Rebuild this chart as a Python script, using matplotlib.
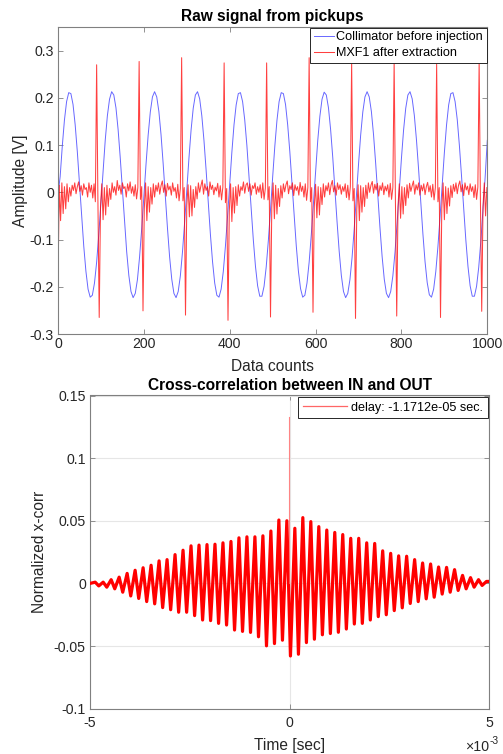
import numpy as np
import matplotlib
matplotlib.use('Agg')
import matplotlib.pyplot as plt
from matplotlib.ticker import FuncFormatter, FormatStrFormatter
from matplotlib.lines import Line2D

plt.rcParams['font.family'] = ['Liberation Sans', 'DejaVu Sans']
plt.rcParams['axes.unicode_minus'] = False

# ---------------- data: raw signals ----------------
blue_step = 5  # data counts between samples
blue_values = [
    -0.005, 0.033, 0.098, 0.153, 0.192, 0.211, 0.209, 0.186, 0.143, 0.086,
    0.019, -0.050, -0.114, -0.167, -0.205, -0.222, -0.218, -0.192, -0.148, -0.089,
    -0.022, 0.046, 0.110, 0.162, 0.197, 0.213, 0.206, 0.179, 0.133, 0.073,
    0.006, -0.063, -0.126, -0.176, -0.210, -0.223, -0.214, -0.185, -0.137, -0.077,
    -0.009, 0.059, 0.121, 0.170, 0.202, 0.213, 0.202, 0.171, 0.122, 0.060,
    -0.008, -0.076, -0.137, -0.184, -0.214, -0.223, -0.210, -0.177, -0.126, -0.063,
    0.005, 0.072, 0.132, 0.178, 0.206, 0.213, 0.198, 0.162, 0.110, 0.047,
    -0.022, -0.089, -0.147, -0.192, -0.218, -0.222, -0.205, -0.168, -0.114, -0.050,
    0.019, 0.085, 0.143, 0.185, 0.209, 0.211, 0.192, 0.153, 0.099, 0.033,
    -0.035, -0.101, -0.157, -0.198, -0.220, -0.220, -0.199, -0.158, -0.102, -0.037,
    0.032, 0.097, 0.152, 0.192, 0.211, 0.209, 0.186, 0.143, 0.086, 0.020,
    -0.049, -0.113, -0.167, -0.204, -0.222, -0.218, -0.192, -0.148, -0.090, -0.023,
    0.046, 0.109, 0.161, 0.197, 0.212, 0.206, 0.179, 0.133, 0.074, 0.006,
    -0.062, -0.125, -0.176, -0.210, -0.223, -0.214, -0.185, -0.138, -0.077, -0.009,
    0.059, 0.121, 0.170, 0.202, 0.213, 0.202, 0.171, 0.122, 0.061, -0.007,
    -0.075, -0.136, -0.184, -0.214, -0.223, -0.210, -0.177, -0.127, -0.064, 0.004,
    0.072, 0.132, 0.178, 0.206, 0.213, 0.198, 0.163, 0.111, 0.048, -0.021,
    -0.088, -0.147, -0.191, -0.217, -0.222, -0.205, -0.168, -0.115, -0.051, 0.018,
    0.084, 0.142, 0.185, 0.209, 0.211, 0.192, 0.154, 0.099, 0.034, -0.035,
    -0.101, -0.157, -0.198, -0.220, -0.220, -0.199, -0.159, -0.103, -0.037, 0.032,
    0.110,
]

red_step = 3  # data counts between samples
red_rows = [
    [-0.19, 0.015, -0.06, 0.02, -0.045, 0.012, -0.035, 0.018, -0.02, 0.01,
     -0.008, 0.015, 0.004, 0.02, -0.003, 0.012, 0.022, 0.002, 0.014, -0.006,
     0.018, 0.006, 0.01, -0.01, 0.02, 0.0, 0.015, -0.012, 0.018, -0.02],
    [0.270, -0.02, -0.265, -0.03, 0.018, -0.058, 0.01, -0.048, 0.015, -0.03,
     0.008, -0.015, 0.02, 0.0, 0.012, -0.006, 0.025, 0.004, 0.015, -0.004,
     0.02, 0.008, 0.012, -0.01, 0.018, 0.003, 0.022, -0.002, 0.012, -0.008,
     0.016, -0.014, 0.01],
    [0.277, -0.015, 0.012, -0.251, -0.035, 0.02, -0.06, 0.012, -0.042, 0.01,
     -0.025, 0.018, -0.01, 0.015, 0.002, 0.02, -0.004, 0.014, 0.024, 0.0,
     0.016, -0.008, 0.019, 0.005, 0.013, -0.006, 0.02, 0.002, 0.01, -0.012,
     0.017, -0.018, 0.008],
    [0.285, -0.018, 0.01, -0.260, -0.028, 0.016, -0.052, 0.014, -0.05, 0.006,
     -0.032, 0.012, -0.014, 0.02, 0.0, 0.014, 0.026, -0.004, 0.018, 0.004,
     0.012, -0.008, 0.022, 0.006, 0.015, -0.005, 0.011, 0.003, 0.019, -0.01,
     0.014, -0.016, 0.011],
    [0.274, -0.022, 0.008, -0.271, -0.04, 0.018, -0.062, 0.01, -0.044, 0.012,
     -0.028, 0.016, -0.008, 0.012, 0.004, 0.022, -0.002, 0.016, 0.02, 0.002,
     0.018, -0.006, 0.014, 0.008, 0.02, -0.004, 0.012, 0.0, 0.016, -0.012,
     0.02, -0.015, 0.009],
    [0.274, -0.016, 0.012, -0.264, -0.032, 0.02, -0.056, 0.015, -0.046, 0.008,
     -0.03, 0.014, -0.012, 0.018, 0.001, 0.016, 0.024, -0.003, 0.014, 0.006,
     0.02, -0.007, 0.016, 0.004, 0.012, -0.006, 0.021, 0.002, 0.013, -0.01,
     0.018, -0.017, 0.01],
    [0.285, -0.02, 0.01, -0.254, -0.03, 0.017, -0.054, 0.012, -0.048, 0.01,
     -0.026, 0.018, -0.01, 0.014, 0.003, 0.02, -0.005, 0.015, 0.025, 0.001,
     0.014, -0.006, 0.02, 0.006, 0.016, -0.004, 0.012, 0.002, 0.018, -0.011,
     0.015, -0.016, 0.012],
    [0.277, -0.018, 0.008, -0.267, -0.036, 0.016, -0.06, 0.014, -0.042, 0.01,
     -0.03, 0.015, -0.013, 0.02, 0.0, 0.015, 0.023, -0.002, 0.017, 0.005,
     0.019, -0.008, 0.014, 0.004, 0.02, -0.005, 0.013, 0.003, 0.016, -0.01,
     0.019, -0.015, 0.01],
    [0.277, -0.02, -0.262, -0.03, 0.018, -0.055, 0.012, -0.046, 0.01, -0.028,
     0.016, -0.012, 0.019, 0.002, 0.014, 0.024, -0.004, 0.016, 0.005, 0.02,
     -0.006, 0.015, 0.003, 0.018, -0.005, 0.012, 0.021, 0.001, 0.014, -0.01,
     0.017, -0.016, 0.01],
    [0.271, -0.02, 0.01, -0.265, -0.034, 0.02, -0.058, 0.012, -0.045, 0.009,
     -0.029, 0.014, -0.011, 0.017, 0.002, 0.02, -0.003, 0.015, 0.024, 0.001,
     0.016, -0.007, 0.02, 0.005, 0.013, -0.005, 0.018, 0.002, 0.012, -0.011,
     0.016, -0.015, 0.011],
    [0.277, -0.02, -0.252, -0.03, 0.02, -0.05, 0.01],
]

# ---------------- data: cross-correlation (times in ms) ----------------
xc_peak_ms = [-4.87, -4.67, -4.47, -4.27, -4.07, -3.87, -3.67, -3.47, -3.27, -3.07,
              -2.87, -2.67, -2.47, -2.27, -2.07, -1.87, -1.67, -1.47, -1.27, -1.07,
              -0.87, -0.67, -0.47, -0.27, -0.07, 0.13, 0.33, 0.53, 0.73, 0.93,
              1.13, 1.33, 1.53, 1.73, 1.93, 2.13, 2.33, 2.53, 2.73, 2.93,
              3.13, 3.33, 3.53, 3.73, 3.93, 4.13, 4.33, 4.53, 4.73, 4.93]
xc_peak_val = [0.001, 0.001, 0.003, 0.005, 0.008, 0.0105, 0.0125, 0.0145, 0.018, 0.019,
               0.023, 0.0265, 0.030, 0.0306, 0.031, 0.0313, 0.0324, 0.0335, 0.0364, 0.0372,
               0.0372, 0.038, 0.0418, 0.0506, 0.050, 0.044, 0.0525, 0.0493, 0.0453, 0.0426,
               0.0407, 0.039, 0.036, 0.036, 0.0324, 0.0319, 0.026, 0.024, 0.022, 0.0217,
               0.019, 0.0163, 0.0155, 0.0131, 0.0128, 0.011, 0.0064, 0.0046, 0.003, 0.0016]
xc_trough_ms = [-4.78, -4.58, -4.38, -4.18, -3.98, -3.78, -3.58, -3.38, -3.18, -2.98,
                -2.78, -2.58, -2.38, -2.18, -1.98, -1.78, -1.58, -1.38, -1.18, -0.98,
                -0.78, -0.58, -0.38, -0.18, 0.02, 0.22, 0.42, 0.62, 0.82, 1.02,
                1.22, 1.42, 1.62, 1.82, 2.02, 2.22, 2.42, 2.62, 2.82, 3.02,
                3.22, 3.42, 3.62, 3.82, 4.02, 4.22, 4.42, 4.62, 4.82]
xc_trough_val = [-0.002, -0.003, -0.0043, -0.007, -0.010, -0.012, -0.0145, -0.0163, -0.0193, -0.021,
                 -0.023, -0.023, -0.0257, -0.0292, -0.0297, -0.0319, -0.0332, -0.0372, -0.0383, -0.0391,
                 -0.0426, -0.0498, -0.048, -0.0453, -0.0579, -0.0565, -0.0472, -0.0445, -0.041, -0.040,
                 -0.039, -0.0364, -0.0324, -0.0319, -0.0292, -0.0265, -0.025, -0.0217, -0.0195, -0.016,
                 -0.0145, -0.0123, -0.011, -0.0085, -0.007, -0.0056, -0.0043, -0.003, -0.0016]
xc_edge_ms = [-5.0, 5.0]
xc_edge_val = [0.0, 0.0016]
delay_s = -1.1712e-05
delay_peak = 0.133

# ---------------- figure ----------------
W, H = 503, 754
fig = plt.figure(figsize=(W / 100, H / 100), dpi=100)

txt = '#262626'
spine_c = '#808080'
TICK_FS = 10.2
LABEL_FS = 11.2
TITLE_FS = 11.2
LEG_FS = 9.1

def style_axes(ax):
    for s in ax.spines.values():
        s.set_color(spine_c)
        s.set_linewidth(0.8)
    ax.tick_params(direction='in', top=True, right=True, length=3.5, width=0.6,
                   color=spine_c, labelcolor=txt, labelsize=TICK_FS, pad=3)

# ---- top axes ----
ax1 = fig.add_axes([58 / W, 1 - 334 / H, (487.3 - 58) / W, (334 - 27) / H])
blue_x = np.arange(len(blue_values)) * blue_step
red_values = [v for row in red_rows for v in row]
red_x = np.arange(len(red_values)) * red_step
ax1.plot(blue_x, blue_values, color=(0.3, 0.3, 1.0), lw=0.7, alpha=0.85,
         label='Collimator before injection')
ax1.plot(red_x, red_values, color='red', lw=0.75, alpha=0.75,
         label='MXF1 after extraction')
ax1.set_xlim(0, 1000)
ax1.set_ylim(-0.3, 0.35)
ax1.set_xticks([0, 200, 400, 600, 800, 1000])
ax1.set_yticks([-0.3, -0.2, -0.1, 0, 0.1, 0.2, 0.3])
ax1.yaxis.set_major_formatter(FormatStrFormatter('%g'))
style_axes(ax1)
ax1.tick_params(axis='x', pad=2)
ax1.set_title('Raw signal from pickups', fontsize=TITLE_FS, fontweight='bold', color='black', pad=4)
ax1.set_xlabel('Data counts', fontsize=LABEL_FS, color=txt, labelpad=6)
ax1.set_ylabel('Amplitude [V]', fontsize=LABEL_FS, color=txt, labelpad=1)
leg1 = ax1.legend(loc='upper right', fontsize=LEG_FS, handlelength=1.6, handletextpad=0.15,
                  borderaxespad=0.05, borderpad=0.3, labelspacing=0.3, fancybox=False,
                  framealpha=1, edgecolor=txt)
leg1.get_frame().set_linewidth(0.7)
for t in leg1.get_texts():
    t.set_color('black')

# ---- bottom axes ----
ax2 = fig.add_axes([90 / W, 1 - 708.7 / H, 399.3 / W, (708.7 - 395.5) / H])
xc_t = np.array(xc_peak_ms + xc_trough_ms + xc_edge_ms)
xc_v = np.array(xc_peak_val + xc_trough_val + xc_edge_val)
order = np.argsort(xc_t)
ax2.grid(True, color='#e6e6e6', lw=0.8, zorder=0)
ax2.set_axisbelow(True)
ax2.plot(xc_t[order] * 1e-3, xc_v[order], color='red', lw=2.3, zorder=3)
ax2.plot([delay_s, delay_s], [0.0, delay_peak], color='#ff6666', lw=0.8, alpha=0.8, zorder=3)
ax2.set_xlim(-5e-3, 5e-3)
ax2.set_ylim(-0.1, 0.15)
ax2.set_xticks([-5e-3, 0, 5e-3])
ax2.set_yticks([-0.1, -0.05, 0, 0.05, 0.1, 0.15])
ax2.yaxis.set_major_formatter(FormatStrFormatter('%g'))
ax2.xaxis.set_major_formatter(FuncFormatter(lambda v, p: '%g' % round(v * 1e3, 6)))
style_axes(ax2)
ax2.tick_params(axis='x', pad=5)
ax2.text(0.999, -0.134, '\u00d710', transform=ax2.transAxes, ha='right', va='baseline',
         fontsize=TICK_FS, color=txt)
ax2.text(1.001, -0.112, '-3', transform=ax2.transAxes, ha='left', va='baseline',
         fontsize=TICK_FS * 0.72, color=txt)
ax2.set_title('Cross-correlation between IN and OUT', fontsize=TITLE_FS, fontweight='bold',
              color='black', pad=4)
ax2.set_xlabel('Time [sec]', fontsize=LABEL_FS, color=txt, labelpad=6)
ax2.set_ylabel('Normalized x-corr', fontsize=LABEL_FS, color=txt, labelpad=5)
proxy = Line2D([], [], color='#ff6666', lw=0.9)
leg2 = ax2.legend([proxy], ['delay: %.4e sec.' % delay_s], loc='upper right', fontsize=LEG_FS,
                  handlelength=3.5, handletextpad=0.3, borderaxespad=0.1, borderpad=0.38,
                  fancybox=False, framealpha=1, edgecolor=txt)
leg2.get_frame().set_linewidth(0.7)
for t in leg2.get_texts():
    t.set_color('black')

fig.savefig('out.png', dpi=100)
